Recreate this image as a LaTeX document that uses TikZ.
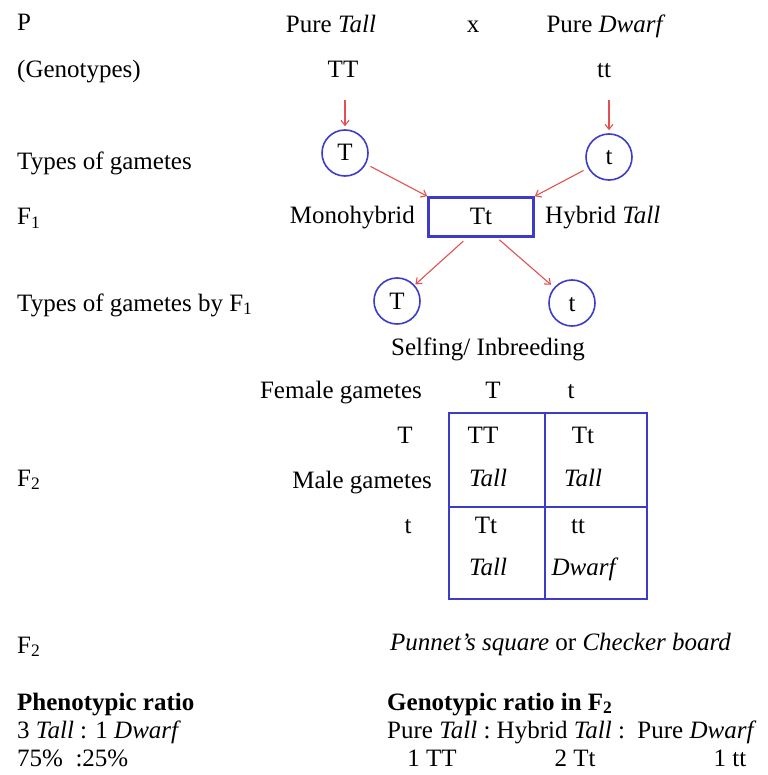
\documentclass[tikz,border=0pt]{standalone}
\usepackage{fontspec}
\setmainfont{Liberation Serif}
\usetikzlibrary{arrows.meta}
\definecolor{gblue}{RGB}{60,60,200}
\definecolor{gred}{RGB}{228,80,80}
\tikzset{
  txt/.style={inner sep=0pt, text height=16pt, text depth=0pt, font=\fontsize{25}{29}\selectfont},
  lft/.style={txt, anchor=west},
  rgt/.style={txt, anchor=east},
  gcirc/.style={txt, circle, draw=gblue, line width=1.6pt, minimum size=46pt},
  f1box/.style={txt, rectangle, draw=gblue, line width=2.6pt, minimum width=105pt, minimum height=39pt},
  rarr/.style={draw=gred, line width=1.1pt, -{Straight Barb[length=5pt,width=8pt]}},
  grid/.style={draw=gblue, line width=1.6pt}
}
\begin{document}
\begin{tikzpicture}[x=1pt,y=-1pt]
\useasboundingbox (0,0) rectangle (767,775);
% row P
\node[lft] (P) at (17,23) {P};
\node[txt] (ptall) at (331,25) {Pure \textit{Tall}};
\node[txt] (cross) at (473,25) {x};
\node[txt] (pdwarf) at (606,25) {Pure \textit{Dwarf}};
% genotypes
\node[lft] (gen) at (17,70) {(Genotypes)};
\node[txt] (TT) at (343,70) {TT};
\node[txt] (tt) at (604,70) {tt};
% gametes
\node[lft] (tog) at (17,162) {Types of gametes};
\node[gcirc] (g1) at (345,153) {T};
\node[gcirc] (g2) at (609,157) {t};
\draw[rarr, shorten <=22pt, shorten >=3pt] (TT.south -| g1) -- (g1.north);
\draw[rarr, shorten <=22pt, shorten >=3pt] (tt.south -| g2) -- (g2.north);
% F1
\node[lft] (F1) at (17,217) {F\textsubscript{1}};
\node[f1box] (f1) at (481,217) {Tt};
\node[rgt] (mono) at (415,216) {Monohybrid};
\node[lft] (hyb) at (545,216) {Hybrid \textit{Tall}};
\draw[rarr, shorten <=5pt] (g1) -- (f1.north west);
\draw[rarr, shorten <=5pt] (g2) -- (f1.north east);
% gametes by F1
\node[lft] (togf) at (17,303) {Types of gametes by F\textsubscript{1}};
\node[gcirc] (h1) at (397,301) {T};
\node[gcirc] (h2) at (572,303) {t};
\draw[rarr, shorten <=5pt, shorten >=1pt] ([xshift=-14pt]f1.south) -- (h1);
\draw[rarr, shorten <=3pt, shorten >=4pt] ([xshift=16pt]f1.south) -- (h2);
\node[txt] (self) at (488,347) {Selfing/ Inbreeding};
% Punnett square
\node[rgt] (fem) at (422,390) {Female gametes};
\node[txt] (fT) at (493,390) {T};
\node[txt] (ft) at (571,390) {t};
\node[txt] (mT) at (405,435) {T};
\node[rgt] (male) at (432,480) {Male gametes};
\node[txt] (mt) at (408,525) {t};
\node[lft] (F2a) at (17,478) {F\textsubscript{2}};
\draw[grid] (449,413) rectangle (647,599);
\draw[grid] (545,413) -- (545,599);
\draw[grid] (449,507) -- (647,507);
\node[txt] (c11a) at (483,435) {TT};
\node[txt] (c11b) at (488,478) {\textit{Tall}};
\node[txt] (c12a) at (583,435) {Tt};
\node[txt] (c12b) at (583,478) {\textit{Tall}};
\node[txt] (c21a) at (486,525) {Tt};
\node[txt] (c21b) at (488,567) {\textit{Tall}};
\node[txt] (c22a) at (578,525) {tt};
\node[txt] (c22b) at (585,567) {\textit{Dwarf}};
% bottom
\node[lft] (F2b) at (17,645) {F\textsubscript{2}};
\node[lft] (pun) at (390,642) {\textit{Punnet’s square} or \textit{Checker board}};
\node[lft] (phr) at (17,702) {\textbf{Phenotypic ratio}};
\node[lft] (ph1) at (17,730) {3 \textit{Tall} : 1 \textit{Dwarf}};
\node[lft] (ph2) at (17,758) {75\%\ \ :25\%};
\node[lft] (ger) at (387,702) {\textbf{Genotypic ratio in F\textsubscript{2}}};
\node[lft] (ge1) at (387,730) {Pure \textit{Tall} :\ Hybrid \textit{Tall} :\ \ Pure \textit{Dwarf}};
\node[txt] (ge2) at (432,758) {1 TT};
\node[txt] (ge3) at (575,758) {2 Tt};
\node[txt] (ge4) at (730,758) {1 tt};
\end{tikzpicture}
\end{document}
